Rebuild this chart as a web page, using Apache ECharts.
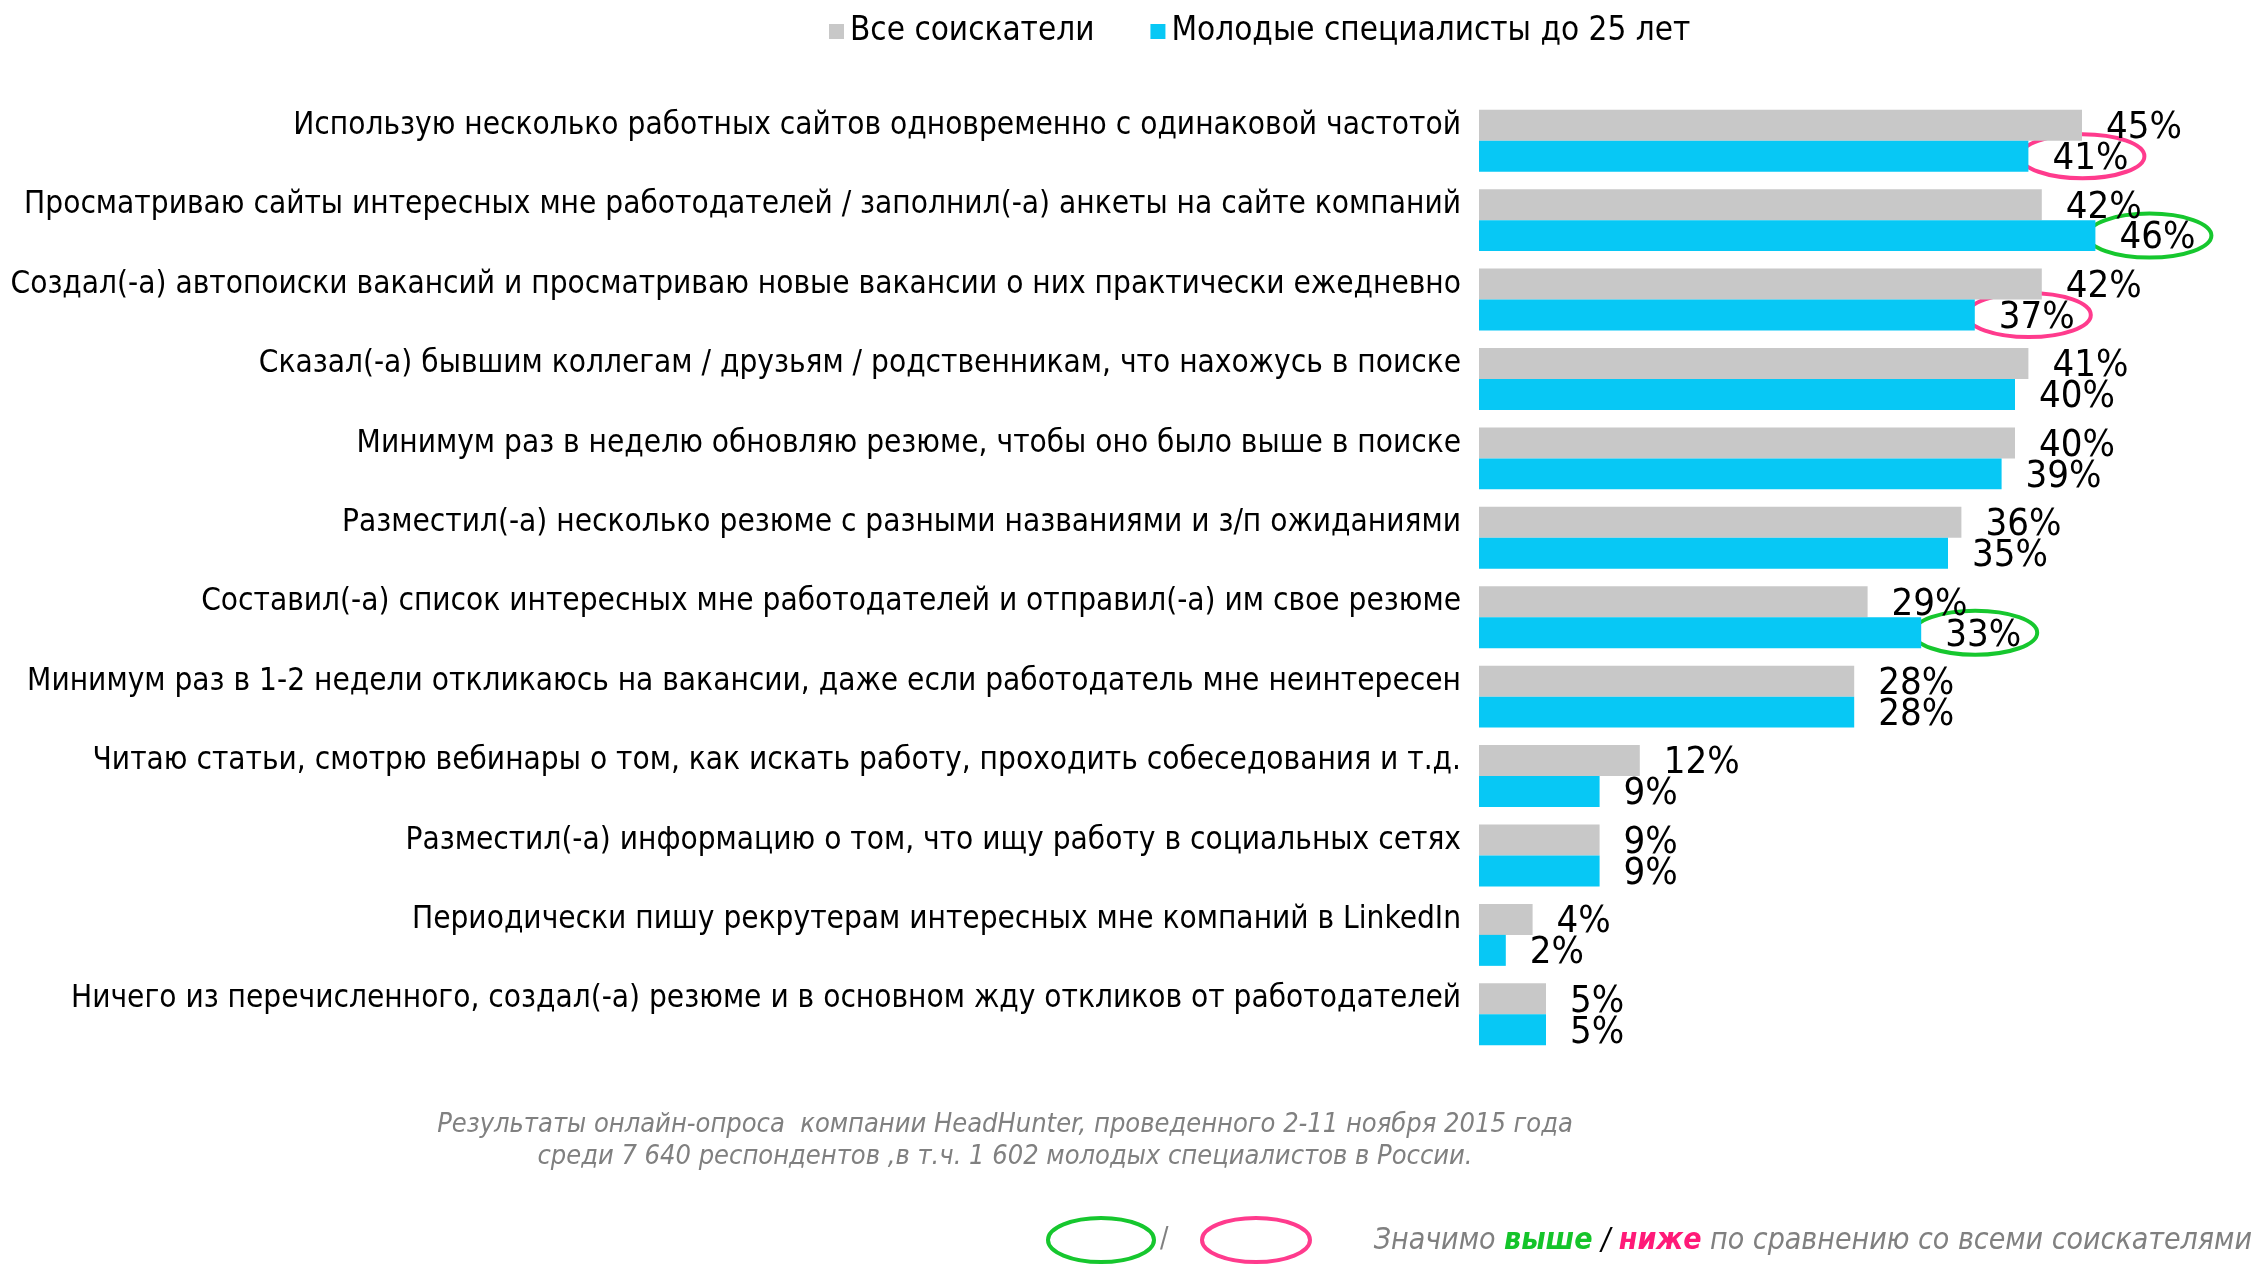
<!DOCTYPE html>
<html>
<head>
<meta charset="utf-8">
<script src="https://cdn.jsdelivr.net/npm/echarts@6/dist/echarts.min.js"></script>
<style>
    html, body { margin: 0; padding: 0; background: #fff; }
    #chart { width: 2262px; height: 1286px; }
</style>
</head>
<body>
<div id="chart"></div>
<script>
    var categories = [
        'Использую несколько работных сайтов одновременно с одинаковой частотой',
        'Просматриваю сайты интересных мне работодателей / заполнил(-а) анкеты на сайте компаний',
        'Создал(-а) автопоиски вакансий и просматриваю новые вакансии о них практически ежедневно',
        'Сказал(-а) бывшим коллегам / друзьям / родственникам, что нахожусь в поиске',
        'Минимум раз в неделю обновляю резюме, чтобы оно было выше в поиске',
        'Разместил(-а) несколько резюме с разными названиями и з/п ожиданиями',
        'Составил(-а) список интересных мне работодателей и отправил(-а) им свое резюме',
        'Минимум раз в 1-2 недели откликаюсь на вакансии, даже если работодатель мне неинтересен',
        'Читаю статьи, смотрю вебинары о том, как искать работу, проходить собеседования и т.д.',
        'Разместил(-а) информацию о том, что ищу работу в социальных сетях',
        'Периодически пишу рекрутерам интересных мне компаний в LinkedIn',
        'Ничего из перечисленного, создал(-а) резюме и в основном жду откликов от работодателей'
    ];
    var allSeekers = [45, 42, 42, 41, 40, 36, 29, 28, 12, 9, 4, 5];
    var youngSpecialists = [41, 46, 37, 40, 39, 35, 33, 28, 9, 9, 2, 5];
    // 1 = значимо выше, -1 = значимо ниже
    var significance = [-1, 1, -1, 0, 0, 0, 1, 0, 0, 0, 0, 0];

    var FONT = "'Liberation Sans Narrow', 'Arial Narrow', 'DejaVu Sans Condensed', sans-serif";
    var GREEN = '#16c72e', PINK = '#ff3b8d';

    var marks = [];
    significance.forEach(function(s, i) {
        if (s !== 0) marks.push([youngSpecialists[i], i, s]);
    });

    var dom = document.getElementById('chart');
    var myChart = echarts.init(dom);

    var valueLabel = {
        show: true,
        position: 'right',
        distance: 24,
        offset: [0, 3],
        formatter: '{c}%',
        fontFamily: FONT,
        fontSize: 38,
        color: '#000'
    };

    var option = {
        animation: false,
        textStyle: { fontFamily: FONT },
        legend: {
            top: 10,
            left: 824,
            itemWidth: 15,
            itemHeight: 15,
            itemGap: 56,
            icon: 'rect',
            textStyle: { fontFamily: FONT, fontSize: 33, color: '#000', padding: [0, 0, 0, 1] },
            data: ['Все соискатели', 'Молодые специалисты до 25 лет']
        },
        grid: { left: 1479, right: 113, top: 101, bottom: 232 },
        xAxis: {
            type: 'value',
            min: 0,
            max: 50,
            show: false
        },
        yAxis: {
            type: 'category',
            inverse: true,
            data: categories,
            axisLine: { show: false },
            axisTick: { show: false },
            axisLabel: {
                fontFamily: FONT,
                fontSize: 31.3,
                color: '#000',
                margin: 18,
                verticalAlign: 'bottom',
                lineHeight: 30
            }
        },
        series: [
            {
                name: 'Все соискатели',
                type: 'bar',
                data: allSeekers,
                barGap: '0%',
                barCategoryGap: '22%',
                itemStyle: { color: '#c8c8c8' },
                label: valueLabel
            },
            {
                name: 'Молодые специалисты до 25 лет',
                type: 'bar',
                data: youngSpecialists,
                itemStyle: { color: '#07c8f5' },
                label: valueLabel
            },
            {
                type: 'custom',
                clip: false,
                silent: true,
                data: marks,
                renderItem: function(params, api) {
                    var pt = api.coord([api.value(0), api.value(1)]);
                    var band = api.size([0, 1])[1];
                    return {
                        type: 'ellipse',
                        shape: { cx: pt[0] + 54, cy: pt[1] + band * 0.195, rx: 62, ry: 22 },
                        style: {
                            fill: 'none',
                            stroke: api.value(2) > 0 ? GREEN : PINK,
                            lineWidth: 4
                        }
                    };
                }
            }
        ],
        graphic: [
            {
                type: 'text',
                style: {
                    text: 'Результаты онлайн-опроса  компании HeadHunter, проведенного 2-11 ноября 2015 года',
                    x: 1005, y: 1125,
                    align: 'center', verticalAlign: 'middle',
                    fontFamily: FONT, fontStyle: 'italic', fontSize: 27,
                    fill: '#808080'
                }
            },
            {
                type: 'text',
                style: {
                    text: 'среди 7 640 респондентов ,в т.ч. 1 602 молодых специалистов в России.',
                    x: 1005, y: 1157,
                    align: 'center', verticalAlign: 'middle',
                    fontFamily: FONT, fontStyle: 'italic', fontSize: 27,
                    fill: '#808080'
                }
            },
            {
                type: 'ellipse',
                shape: { cx: 1101, cy: 1240, rx: 53, ry: 22 },
                style: { fill: 'none', stroke: GREEN, lineWidth: 4 }
            },
            {
                type: 'text',
                style: { text: '/', x: 1160, y: 1226, fontFamily: FONT, fontSize: 28, fill: '#808080' }
            },
            {
                type: 'ellipse',
                shape: { cx: 1256, cy: 1240, rx: 54, ry: 22 },
                style: { fill: 'none', stroke: PINK, lineWidth: 4 }
            },
            {
                type: 'text',
                right: 10,
                top: 1226,
                style: {
                    text: '{g|Значимо }{hi|выше}{sl| / }{lo|ниже}{g| по сравнению со всеми соискателями}',
                    rich: {
                        g: { fontFamily: FONT, fontStyle: 'italic', fontSize: 30, fill: '#808080' },
                        hi: { fontFamily: FONT, fontStyle: 'italic', fontWeight: 'bold', fontSize: 30, fill: '#14c42a' },
                        sl: { fontFamily: FONT, fontStyle: 'italic', fontSize: 30, fill: '#000' },
                        lo: { fontFamily: FONT, fontStyle: 'italic', fontWeight: 'bold', fontSize: 30, fill: '#ff1a78' }
                    }
                }
            }
        ]
    };

    if (option && typeof option === 'object') {
        myChart.setOption(option, true);
    }
</script>
</body>
</html>
